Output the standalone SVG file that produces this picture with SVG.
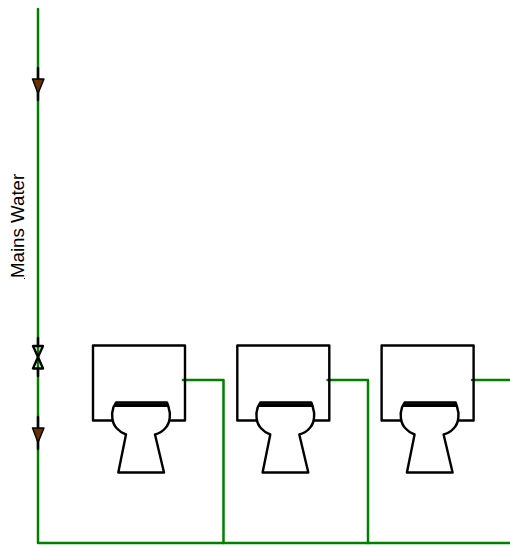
<svg xmlns="http://www.w3.org/2000/svg" width="510" height="548" viewBox="0 0 510 548">
<style>
.pipe{fill:none;stroke:#008000;stroke-width:2.500;stroke-linejoin:round;stroke-linecap:round}
.blk{fill:none;stroke:#000;stroke-width:2.400;stroke-linejoin:round;stroke-linecap:round}
.thin{fill:none;stroke:#000;stroke-width:1.800}
.arrow{fill:#663300;stroke:#000;stroke-width:1.400;stroke-linejoin:round}
.label{font-family:"Liberation Sans",Arial,sans-serif;font-size:18.700px;fill:#000}
</style>
<defs>
<g id="wc">
<path class="blk" d="M112,420.500H93V345.500H185V420.500H170"/>
<path class="blk" d="M116,402.500L113.500,407Q111.500,413 112.300,418Q113,424.500 117,428.500Q121,433 126,434.500L118.300,472.500H164L155,434.500Q161,433 165,428.500Q169,424.500 169.700,418Q170.500,413 168.500,407L167,402.500Z"/>
<path class="thin" d="M115,404.200H168M114,406H169"/>
</g>
</defs>
<g id="connectors">
<path class="pipe" d="M38,9V543H510"/>
<path class="pipe" d="M183,380H223.500V543"/>
<path class="pipe" d="M327.500,380H368V543"/>
<path class="pipe" d="M472,380H510"/>
</g>
<g id="arrow-top">
<path class="blk" d="M38,68V100" stroke-linecap="butt"/>
<path class="arrow" d="M32.500,79H44L38,93.500Z"/>
</g>
<g id="valve">
<path class="blk" d="M38,338V346M38,368V376"/>
<path class="blk" d="M33,346H43L38,357ZM33,368.500H43L38,357Z"/>
</g>
<g id="arrow-bottom">
<path class="blk" d="M38,417V449"/>
<path class="arrow" d="M32.500,428H44L38,442.500Z"/>
</g>
<g id="toilet-1"><use href="#wc"/></g>
<g id="toilet-2"><use href="#wc" x="144.300"/></g>
<g id="toilet-3"><use href="#wc" x="288.600"/></g>
<g id="label"><text class="label" transform="translate(23.500,278) rotate(-90)">Mains Water</text><rect x="24" y="278" width="1" height="1" fill="#000"/></g>
</svg>
